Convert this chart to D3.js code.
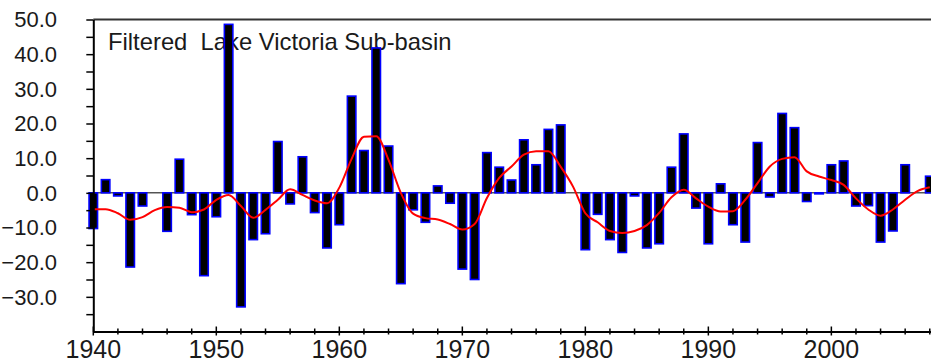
<!DOCTYPE html>
<meta charset="utf-8">
<script src="https://d3js.org/d3.v7.min.js"></script>
<style>
  body { margin: 0; background: #fff; }
  text { font-family: "Liberation Sans", Arial, sans-serif; fill: #1a1a1a; }
</style>
<div id="my_dataviz"></div>
<script>

// years shown as bars
var years = d3.range(1940, 2009);

// annual values (bars)
var annual = [
  -10.3, 3.8, -0.9, -21.4, -3.8, 0, -11.1, 9.7, -6.3, -23.9,
  -6.9, 48.6, -32.9, -13.5, -11.8, 14.8, -3.2, 10.4, -5.7, -15.9,
  -9.2, 27.9, 12.2, 41.8, 13.5, -26.2, -4.9, -8.5, 2.0, -3.0,
  -22.0, -25.0, 11.6, 7.4, 3.7, 15.3, 8.1, 18.3, 19.6, 0,
  -16.4, -6.2, -13.5, -17.2, -0.9, -15.9, -14.7, 7.4, 17.0, -4.4,
  -14.7, 2.6, -9.2, -14.2, 14.5, -1.2, 22.9, 18.8, -2.5, -0.3,
  8.1, 9.2, -3.8, -3.7, -14.2, -11.0, 8.1, 0, 4.8
];

// filtered series (red line)
var filtered = [
  -4.7, -4.7, -5.9, -7.8, -7.0, -5.0, -4.1, -4.3, -5.6, -4.8,
  -2.0, -0.6, -3.8, -7.2, -4.9, -2.0, 1.0, -0.6, -2.2, -3.0,
  1.5, 9.8, 16.2, 16.3, 9.5, 0, -6.0, -7.3, -7.7, -9.0,
  -10.6, -9.0, -1.5, 4.3, 7.6, 11.0, 12.0, 12.0, 7.5, 1.8,
  -5.9, -8.5, -11.0, -11.6, -11.0, -9.3, -5.8, -1.3, 0.9, -1.6,
  -4.0, -5.4, -5.3, -2.0, 2.8, 7.6, 9.8, 10.3, 6.2, 4.7,
  3.7, 2.3, -1.6, -4.8, -6.6, -4.8, -2.0, 0.5, 1.6
];

var yTickLabels = [50, 40, 30, 20, 10, 0, -10, -20, -30];
var xTickLabels = [1940, 1950, 1960, 1970, 1980, 1990, 2000];
var title = "Filtered  Lake Victoria Sub-basin";

var W = 931, H = 362;
var margin = {left: 93.3, right: 931, top: 19.5, bottom: 331.5};

var svg = d3.select("#my_dataviz")
  .append("svg")
    .attr("width", W)
    .attr("height", H)
    .style("display", "block");

svg.append("rect").attr("width", W).attr("height", H).attr("fill", "#fff");

var x = d3.scaleLinear().domain([1940, 2008.1]).range([margin.left, margin.right]);
var y = d3.scaleLinear().domain([-40, 50]).range([margin.bottom, margin.top]);

// top border
svg.append("line")
  .attr("x1", margin.left).attr("x2", margin.right)
  .attr("y1", margin.top).attr("y2", margin.top)
  .attr("stroke", "#333").attr("stroke-width", 2);

// title (bars are drawn over it)
svg.append("text")
  .attr("x", 108).attr("y", 50)
  .style("font-size", "23.8px")
  .style("white-space", "pre")
  .text(title);

// zero line
svg.append("line")
  .attr("x1", margin.left).attr("x2", margin.right)
  .attr("y1", y(0)).attr("y2", y(0))
  .attr("stroke", "#000").attr("stroke-width", 1);

var data = years.map(function(d, i) { return {year: d, value: annual[i], f: filtered[i]}; });

// bars
var bw = 8.5;
svg.append("g").selectAll("rect")
  .data(data.filter(function(d) { return d.value !== 0; }))
  .enter().append("rect")
    .attr("x", function(d) { return x(d.year) - bw / 2; })
    .attr("y", function(d) { return y(Math.max(0, d.value)); })
    .attr("width", bw)
    .attr("height", function(d) { return Math.abs(y(d.value) - y(0)); })
    .attr("fill", "#000")
    .attr("stroke", "#0000ff")
    .attr("stroke-width", 1.6);

// filtered line
var line = d3.line()
  .x(function(d) { return x(d.year); })
  .y(function(d) { return y(d.f); })
  .curve(d3.curveMonotoneX);

svg.append("path")
  .datum(data)
  .attr("d", line)
  .attr("fill", "none")
  .attr("stroke", "#ff0000")
  .attr("stroke-width", 2);

// Y axis
var yAxis = d3.axisLeft(y)
  .tickValues(d3.range(-35, 51, 5))
  .tickSize(7)
  .tickSizeOuter(0)
  .tickFormat("");
var gy = svg.append("g")
  .attr("transform", "translate(" + margin.left + ",0)")
  .call(yAxis);
gy.select(".domain").attr("stroke", "#000").attr("stroke-width", 2);
gy.selectAll(".tick line").attr("stroke", "#000").attr("stroke-width", 1.5);

svg.append("g").selectAll("text")
  .data(yTickLabels)
  .enter().append("text")
    .attr("x", 57)
    .attr("y", function(d) { return y(d); })
    .attr("dy", "0.36em")
    .attr("text-anchor", "end")
    .style("font-size", "22px")
    .text(function(d) { return d3.format(".1f")(d); });

// X axis
var gx = svg.append("g")
  .attr("transform", "translate(0," + margin.bottom + ")")
  .call(d3.axisBottom(x).tickValues([]).tickSizeOuter(0));
gx.select(".domain").attr("stroke", "#000").attr("stroke-width", 2);

svg.append("g").selectAll("line")
  .data(d3.range(1940, 2009, 2))
  .enter().append("line")
    .attr("x1", function(d) { return x(d); })
    .attr("x2", function(d) { return x(d); })
    .attr("y1", function(d) { return margin.bottom - (d % 10 === 0 ? 5 : 3); })
    .attr("y2", function(d) { return margin.bottom + (d % 10 === 0 ? 4 : 3); })
    .attr("stroke", "#000")
    .attr("stroke-width", 1.5);

svg.append("g").selectAll("text")
  .data(xTickLabels)
  .enter().append("text")
    .attr("x", function(d) { return x(d); })
    .attr("y", 358)
    .attr("text-anchor", "middle")
    .style("font-size", "25px")
    .text(function(d) { return d; });

</script>
